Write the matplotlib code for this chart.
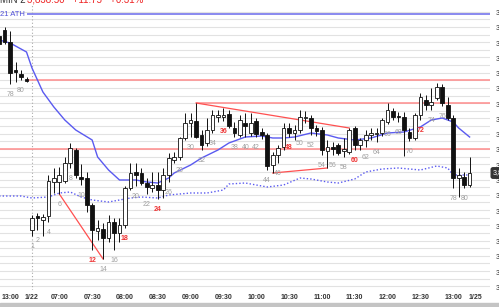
import numpy as np
import matplotlib.pyplot as plt
from matplotlib.patches import Rectangle
from matplotlib.transforms import blended_transform_factory

plt.rcParams['font.family'] = ['Liberation Sans', 'DejaVu Sans']

# bar numbers: -5..0 are bars 76..81 of the prior session, 1..81 are 1/22 bars
bars = list(range(-5, 82))
opens = [3891.00, 3892.50, 3889.50, 3882.50, 3881.50, 3880.25,
         3842.50, 3846.00, 3845.00, 3846.00, 3854.50, 3854.50, 3854.75, 3859.25, 3862.50, 3855.75,
         3855.50, 3848.75, 3842.25, 3842.75, 3840.50, 3844.50, 3841.75, 3843.75, 3853.00, 3857.00,
         3856.75, 3854.25, 3853.00, 3853.75, 3852.50, 3856.25, 3860.00, 3860.75, 3865.50, 3869.25,
         3869.75, 3866.25, 3864.25, 3867.50, 3870.75, 3870.75, 3871.50, 3868.00, 3866.25, 3869.25,
         3866.75, 3869.75, 3867.00, 3866.25, 3858.75, 3861.25, 3863.25, 3868.00, 3866.75, 3867.50,
         3870.50, 3870.50, 3868.00, 3867.50, 3862.25, 3863.25, 3863.75, 3862.25, 3862.00, 3868.00,
         3863.75, 3865.00, 3866.25, 3866.50, 3866.75, 3869.50, 3872.25, 3871.00, 3870.75, 3867.00,
         3865.50, 3871.25, 3875.00, 3873.75, 3875.50, 3878.25, 3873.75, 3870.50, 3855.50, 3855.75,
         3853.75]
highs = [3891.75, 3893.25, 3892.25, 3884.50, 3882.50, 3880.75,
         3846.25, 3846.75, 3846.50, 3856.25, 3858.00, 3858.25, 3860.75, 3864.25, 3863.00, 3859.00,
         3857.00, 3849.25, 3845.00, 3844.25, 3846.25, 3845.50, 3845.50, 3853.50, 3859.25, 3859.25,
         3858.00, 3855.50, 3857.00, 3857.00, 3858.00, 3861.75, 3862.00, 3865.75, 3871.75, 3871.75,
         3874.25, 3867.50, 3870.50, 3872.50, 3872.50, 3873.00, 3872.50, 3869.50, 3871.25, 3871.75,
         3871.75, 3870.50, 3868.00, 3866.75, 3862.00, 3863.75, 3869.25, 3869.25, 3868.75, 3872.50,
         3872.25, 3871.25, 3868.75, 3868.25, 3865.00, 3864.50, 3864.25, 3865.50, 3868.00, 3868.50,
         3865.50, 3867.50, 3868.00, 3868.00, 3870.50, 3874.25, 3873.00, 3872.00, 3872.00, 3868.00,
         3871.75, 3876.75, 3876.25, 3878.00, 3879.25, 3879.00, 3875.75, 3871.25, 3858.00, 3857.00,
         3860.75]
lows = [3888.50, 3889.00, 3879.00, 3879.50, 3880.00, 3879.50,
        3841.00, 3842.50, 3841.00, 3844.50, 3851.75, 3851.50, 3854.25, 3858.00, 3855.50, 3853.75,
        3847.00, 3837.50, 3840.00, 3835.25, 3839.50, 3837.50, 3839.50, 3843.00, 3852.50, 3853.50,
        3853.75, 3851.50, 3852.00, 3850.25, 3850.50, 3854.50, 3859.25, 3860.00, 3865.00, 3865.75,
        3865.50, 3862.50, 3863.50, 3866.75, 3869.50, 3869.75, 3868.00, 3865.75, 3865.75, 3865.75,
        3866.00, 3865.75, 3865.25, 3857.50, 3856.75, 3859.25, 3862.50, 3865.75, 3865.00, 3866.75,
        3869.25, 3866.25, 3866.00, 3861.25, 3858.00, 3861.25, 3861.25, 3860.75, 3861.50, 3862.50,
        3862.50, 3863.25, 3865.00, 3864.50, 3866.00, 3869.00, 3870.00, 3869.50, 3861.00, 3864.75,
        3865.00, 3870.00, 3872.50, 3872.50, 3875.00, 3873.50, 3870.00, 3853.00, 3850.75, 3853.00,
        3853.25]
closes = [3889.00, 3889.50, 3881.75, 3882.00, 3880.75, 3879.75,
          3845.50, 3845.50, 3845.75, 3854.75, 3855.50, 3856.25, 3859.25, 3863.00, 3856.25, 3855.25,
          3848.75, 3842.50, 3843.00, 3840.50, 3844.50, 3841.75, 3843.75, 3853.00, 3856.75, 3856.25,
          3854.25, 3853.25, 3853.75, 3852.50, 3856.25, 3860.50, 3860.75, 3865.50, 3869.25, 3870.00,
          3865.75, 3863.75, 3867.50, 3871.25, 3871.25, 3871.25, 3868.50, 3866.75, 3870.00, 3868.50,
          3869.25, 3866.50, 3866.25, 3858.50, 3861.25, 3863.00, 3868.00, 3866.75, 3867.50, 3870.75,
          3870.75, 3868.00, 3867.25, 3862.50, 3863.25, 3862.75, 3861.75, 3862.75, 3867.50, 3863.75,
          3865.00, 3866.25, 3866.75, 3866.75, 3870.00, 3872.50, 3870.75, 3870.75, 3867.50, 3865.50,
          3871.25, 3875.75, 3873.75, 3874.50, 3878.25, 3874.25, 3870.50, 3855.50, 3856.25, 3853.75,
          3856.75]

# moving average (solid) and lower band (dotted), read at bar positions
ma_bars = [-5, -3, 0, 1, 3, 5, 7, 9, 12, 13, 15, 17, 20, 22, 24, 26, 27, 30, 32, 35, 37, 40,
           43, 45, 47, 49, 52, 55, 57, 60, 63, 66, 69, 72, 74, 76, 78, 79, 81]
ma_vals = [3890.0, 3889.25, 3887.0, 3883.0, 3877.0, 3873.25, 3870.0, 3867.5, 3865.0, 3860.75,
           3857.5, 3855.0, 3855.0, 3854.5, 3854.25, 3855.5, 3856.75, 3858.75, 3860.5, 3862.5,
           3864.25, 3865.75, 3866.0, 3865.5, 3865.5, 3865.75, 3866.75, 3866.25, 3865.5, 3865.0,
           3865.5, 3866.75, 3867.0, 3868.25, 3870.0, 3870.5, 3869.5, 3868.0, 3865.75]
band_bars = [-5, -1, 1, 4, 6, 8, 10, 12, 15, 17, 19, 21, 24, 26, 30, 33, 36, 37, 40, 44, 47,
             50, 52, 55, 57, 60, 62, 65, 68, 72, 75, 77, 78, 81]
band_vals = [3851.0, 3851.0, 3850.5, 3850.75, 3851.75, 3852.0, 3850.75, 3850.0, 3849.5,
             3850.0, 3850.5, 3850.75, 3850.5, 3851.25, 3851.75, 3851.75, 3852.5, 3854.0, 3854.25,
             3853.25, 3853.75, 3855.5, 3855.25, 3854.5, 3854.25, 3855.25, 3857.0, 3857.75,
             3858.0, 3857.5, 3858.5, 3858.0, 3856.25, 3856.25]

ath = 3896.50
# red levels: (price, first bar)
levels = [(3880.00, 0), (3874.25, 31), (3862.75, -5)]
# trendlines between bar extremes: (bar a, bar b, 'low'/'high')
trend = [(6, 14, 'low'), (31, 59, 'high'), (45, 55, 'low')]

label_bars = [-5, -3, -1, 1] + list(range(2, 82, 2))
red_bars = [12, 18, 24, 36, 48, 60, 72]

tick_bars = [-3, 1, 6, 12, 18, 24, 30, 36, 42, 48, 54, 60, 66, 72, 78, 82]
tick_text = ['13:00', '1/22', '07:00', '07:30', '08:00', '08:30', '09:00', '09:30', '10:00',
             '10:30', '11:00', '11:30', '12:00', '12:30', '13:00', '1/25']

W, H = 499, 307
fig = plt.figure(figsize=(W / 100, H / 100), dpi=100)
ax = fig.add_axes([0, 17 / H, 490 / W, 290 / H])
ax.set_xlim(-4.845, 84.73)
ax.set_ylim(3827.5, 3900)

# grid
grid = 3895.175 - 1.9075 * np.arange(-1, 37)
for g in grid:
    ax.axhline(g, color='#e2e2e2', lw=0.8, zorder=0)

ax.axvline(1, color='#aaaaaa', lw=0.8, ls=(0, (1, 2)), ymax=0.985, zorder=1)

# levels
ax.hlines(ath, 0, 84.73, color='#8080ee', lw=1.3, zorder=2)
ax.text(-4.8, ath, '21 ATH', color='#5050d8', fontsize=5.5, va='center', ha='left')
for price, start in levels:
    ax.hlines(price, start, 84.73, color='#ff8c8c', lw=1.1, zorder=2)

bars_a = np.array(bars)
opens_a, highs_a, lows_a, closes_a = map(np.array, (opens, highs, lows, closes))
for a, b, kind in trend:
    src = lows_a if kind == 'low' else highs_a
    ia, ib = bars.index(a), bars.index(b)
    ax.plot([a, b], [src[ia], src[ib]], color='#ff5050', lw=0.9, zorder=2)

ax.plot(ma_bars, ma_vals, color='#5a5af0', lw=1.0, zorder=3)
ax.plot(band_bars, band_vals, color='#5a5af0', lw=1.0, ls=(0, (1, 1.5)), zorder=3)

# candles
ax.vlines(bars_a, lows_a, highs_a, color='#111111', lw=0.7, zorder=4)
up = closes_a >= opens_a
body_lo = np.minimum(opens_a, closes_a)
body_h = np.maximum(np.abs(closes_a - opens_a), 0.3)
ax.bar(bars_a, body_h, bottom=body_lo, width=0.68,
       color=np.where(up, 'white', '#111111'), edgecolor='#111111', lw=0.6, zorder=5)

# bar numbers
for n in label_bars:
    i = bars.index(n)
    num = n + 81 if n <= 0 else n
    red = n in red_bars
    ax.annotate(str(num), (n, lows_a[i]), xytext=(0, -7.3), textcoords='offset points',
                ha='center', va='center', fontsize=5,
                color='#ee3333' if red else '#a0a0a0',
                fontweight='bold' if red else 'normal', zorder=6)

# axes
ax.set_xticks(tick_bars)
ax.set_xticklabels(tick_text, fontsize=5, fontweight='bold', color='#333333')
ax.tick_params(axis='x', length=0, pad=3)
ax.yaxis.tick_right()
ax.set_yticks(grid[::2])
ax.set_yticklabels([f'{v:,.2f}' for v in grid[::2]], fontsize=5, color='#333333')
ax.tick_params(axis='y', length=0, pad=4)
for s in ax.spines.values():
    s.set_visible(False)

# current price tag
tr = blended_transform_factory(ax.transAxes, ax.transData)
ax.text(1.006, closes[-1], '3,856.75', transform=tr, fontsize=5, color='white',
        va='center', ha='left', clip_on=False,
        bbox=dict(boxstyle='round,pad=0.25', fc='#333333', ec='#333333'))

# top title, cut off at the top edge
fig.text(0.0, 1.0, 'MIN 2', fontsize=7, color='#333333', va='center', ha='left')
fig.text(27 / W, 1.0, '3,838.50   +11.75   +0.31%', fontsize=7, color='#ee2222',
         va='center', ha='left')

# bottom bar
fig.patches.append(Rectangle((0, 0), 1, 4 / H, transform=fig.transFigure,
                             color='#c4c4c4', zorder=0))

fig.savefig('out.png', dpi=100)
